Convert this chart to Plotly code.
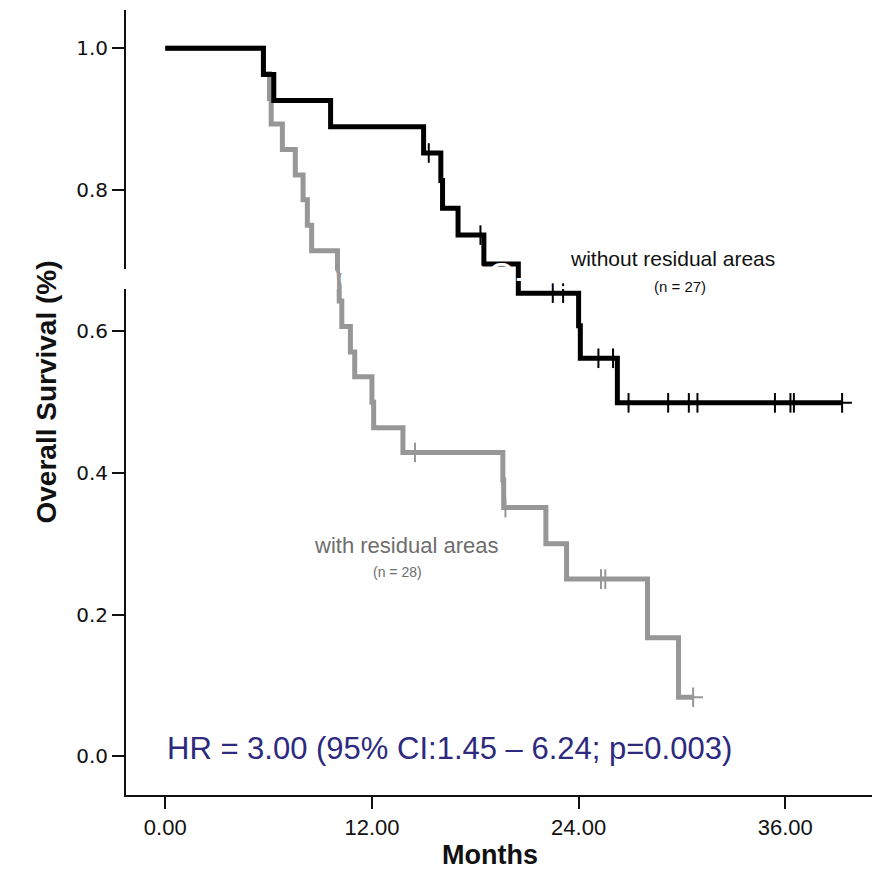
import plotly.graph_objects as go
import numpy as np

# ---- data ----
black_times = [0, 5.7, 6.3, 9.6, 15.0, 16.0, 16.1, 17.0, 18.5, 20.5, 24.0, 24.1, 26.25, 39.3]
black_surv = [1.0, 0.963, 0.926, 0.889, 0.852, 0.813, 0.774, 0.736, 0.695, 0.654, 0.608, 0.562, 0.499, 0.499]
black_censor = [15.3, 18.3, 22.5, 23.1, 25.15, 26.0, 26.9, 29.2, 30.4, 30.9, 35.4, 36.3, 36.5]
black_end = [39.3]

gray_times = [0, 5.7, 6.05, 6.15, 6.8, 7.55, 8.0, 8.25, 8.5, 10.0, 10.1, 10.25, 10.75, 11.0,
              12.0, 12.1, 13.8, 19.6, 19.65, 22.1, 23.3, 28.0, 29.8, 30.65]
gray_surv = [1.0, 0.964, 0.929, 0.893, 0.857, 0.821, 0.786, 0.750, 0.714, 0.679, 0.643, 0.607,
             0.571, 0.536, 0.500, 0.464, 0.429, 0.390, 0.351, 0.300, 0.250, 0.167, 0.083, 0.083]
gray_censor = [14.5, 19.75, 25.3, 25.55]
gray_end = [30.65]

x_ticks = [0, 12, 24, 36]
x_tick_labels = ["0.00", "12.00", "24.00", "36.00"]
y_ticks = [0.0, 0.2, 0.4, 0.6, 0.8, 1.0]
y_tick_labels = ["0.0", "0.2", "0.4", "0.6", "0.8", "1.0"]


def step_value(times, surv, t):
    idx = np.searchsorted(np.array(times), t, side="right") - 1
    return surv[max(idx, 0)]


BLACK = "#000000"
GRAY = "#979797"

fig = go.Figure()

# gray curve (drawn first, under black)
fig.add_trace(go.Scatter(x=gray_times, y=gray_surv, mode="lines", line=dict(color=GRAY, width=5, shape="hv"),
                         showlegend=False, hoverinfo="skip"))
fig.add_trace(go.Scatter(x=gray_censor, y=[step_value(gray_times, gray_surv, t) for t in gray_censor],
                         mode="markers", marker=dict(symbol="line-ns", size=14, line=dict(color=GRAY, width=2)),
                         showlegend=False, hoverinfo="skip"))
fig.add_trace(go.Scatter(x=gray_end, y=[step_value(gray_times, gray_surv, t) for t in gray_end],
                         mode="markers", marker=dict(symbol="cross-thin", size=14, line=dict(color=GRAY, width=2)),
                         showlegend=False, hoverinfo="skip"))

# black curve
fig.add_trace(go.Scatter(x=black_times, y=black_surv, mode="lines", line=dict(color=BLACK, width=5, shape="hv"),
                         showlegend=False, hoverinfo="skip"))
fig.add_trace(go.Scatter(x=black_censor, y=[step_value(black_times, black_surv, t) for t in black_censor],
                         mode="markers", marker=dict(symbol="line-ns", size=14, line=dict(color=BLACK, width=2)),
                         showlegend=False, hoverinfo="skip"))
fig.add_trace(go.Scatter(x=black_end, y=[step_value(black_times, black_surv, t) for t in black_end],
                         mode="markers", marker=dict(symbol="cross-thin", size=14, line=dict(color=BLACK, width=2)),
                         showlegend=False, hoverinfo="skip"))

PLOT_W = 754
PLOT_H = 785

annotations = [
    dict(x=(431 - 126) / PLOT_W, y=(795 - 276) / PLOT_H, xref="paper", yref="paper",
         text="month post therapy FDG-PET/CT scan", showarrow=False,
         font=dict(family="Liberation Sans, Arial", size=36, color="#ffffff")),
    dict(x=29.44, y=0.703, xref="x", yref="y", text="without residual areas", showarrow=False,
         font=dict(family="Liberation Sans, Arial", size=21, color="#111111")),
    dict(x=29.9, y=0.664, xref="x", yref="y", text="(n = 27)", showarrow=False,
         font=dict(family="Liberation Sans, Arial", size=15, color="#111111")),
    dict(x=14.0, y=0.298, xref="x", yref="y", text="with residual areas", showarrow=False,
         font=dict(family="Liberation Sans, Arial", size=22, color="#6e6e6e")),
    dict(x=13.47, y=0.26, xref="x", yref="y", text="(n = 28)", showarrow=False,
         font=dict(family="Liberation Sans, Arial", size=14, color="#6e6e6e")),
    dict(x=0.0, y=0.0113, xref="x", yref="y", xanchor="left", text="HR = 3.00 (95% CI:1.45 – 6.24; p=0.003)",
         showarrow=False, font=dict(family="Liberation Sans, Arial", size=31, color="#2d2a7e")),
    dict(x=(28 - 126) / PLOT_W, y=(795 - 392) / PLOT_H, xref="paper", yref="paper",
         text="<b>Overall Survival (%)</b>", textangle=-90, showarrow=False,
         font=dict(family="Liberation Sans, Arial", size=28, color="#111111")),
    dict(x=(490 - 126) / PLOT_W, y=(795 - 872) / PLOT_H, xref="paper", yref="paper", text="<b>Months</b>",
         showarrow=False, font=dict(family="Liberation Sans, Arial", size=27, color="#111111")),
]

# the page body adds an 8 px offset, so the figure is shrunk and shifted to compensate
fig.update_layout(
    width=872, height=876,
    margin=dict(l=118, r=0, t=2, b=89, autoexpand=False),
    paper_bgcolor="#ffffff", plot_bgcolor="#ffffff",
    showlegend=False,
    annotations=annotations,
    xaxis=dict(range=[-2.28, 41.5], automargin=False, showgrid=False, zeroline=False, showline=True,
               linecolor="#111111", linewidth=2, ticks="outside", ticklen=12, tickwidth=2, tickcolor="#111111",
               tickvals=x_ticks, ticktext=x_tick_labels,
               tickfont=dict(family="Liberation Sans, Arial", size=22, color="#111111")),
    yaxis=dict(range=[-0.055, 1.054], automargin=False, showgrid=False, zeroline=False, showline=True,
               linecolor="#111111", linewidth=2, ticks="outside", ticklen=12, tickwidth=2, tickcolor="#111111",
               tickvals=y_ticks, ticktext=y_tick_labels,
               tickfont=dict(family="DejaVu Sans, Verdana", size=20, color="#111111")),
)

fig.write_html("out.html")
